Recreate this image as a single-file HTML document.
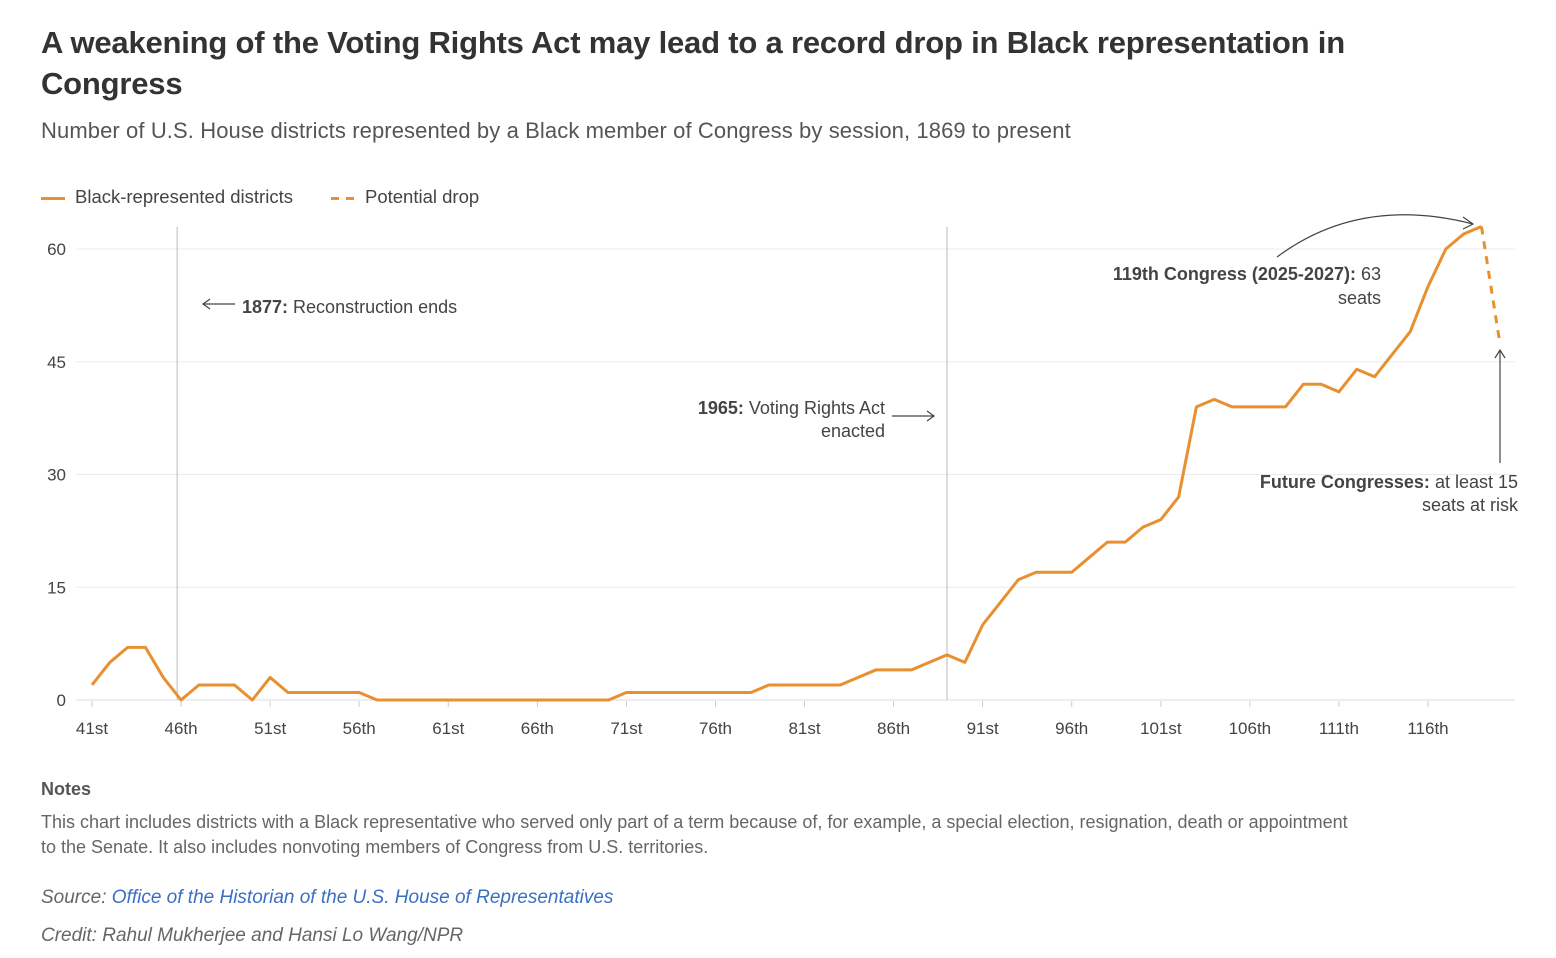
<!DOCTYPE html>
<html><head><meta charset="utf-8"><style>
body{margin:0;width:1556px;height:958px;background:#fff;font-family:"Liberation Sans",sans-serif;color:#333;overflow:hidden;position:relative}
.abs{position:absolute}
h1{position:absolute;left:41px;top:22px;margin:0;font-size:31px;line-height:41px;font-weight:bold;color:#333;width:1380px;letter-spacing:-0.2px}
.sub{left:41px;top:118px;font-size:22px;color:#555;letter-spacing:0.1px}
.leg{top:186px;font-size:18.5px;color:#444}
.notes{left:41px;top:779px;font-size:18px;color:#666}
svg text{font-family:"Liberation Sans",sans-serif}
</style></head><body>
<h1>A weakening of the Voting Rights Act may lead to a record drop in Black representation in Congress</h1>
<div class="abs sub">Number of U.S. House districts represented by a Black member of Congress by session, 1869 to present</div>
<div class="abs leg" style="left:41px"><span style="display:inline-block;width:24px;height:3px;background:#e8902f;vertical-align:middle;margin-right:10px"></span>Black-represented districts</div>
<div class="abs leg" style="left:331px"><span style="display:inline-block;width:24px;height:3px;background:linear-gradient(90deg,#e8902f 0 8px,transparent 8px 15px,#e8902f 15px 23px,transparent 23px);vertical-align:middle;margin-right:10px"></span>Potential drop</div>
<svg id="chart" class="abs" style="left:0;top:0" width="1556" height="760"></svg>
<div class="abs notes">
<div style="font-weight:bold;color:#555">Notes</div>
<div style="margin-top:10px;line-height:25px;width:1318px">This chart includes districts with a Black representative who served only part of a term because of, for example, a special election, resignation, death or appointment to the Senate. It also includes nonvoting members of Congress from U.S. territories.</div>
<div style="margin-top:27px;font-style:italic;font-size:19px">Source: <span style="color:#3a6fc4">Office of the Historian of the U.S. House of Representatives</span></div>
<div style="margin-top:16px;font-style:italic;font-size:19px">Credit: Rahul Mukherjee and Hansi Lo Wang/NPR</div>
</div>
<script>
const congresses=[41,42,43,44,45,46,47,48,49,50,51,52,53,54,55,56,57,58,59,60,61,62,63,64,65,66,67,68,69,70,71,72,73,74,75,76,77,78,79,80,81,82,83,84,85,86,87,88,89,90,91,92,93,94,95,96,97,98,99,100,101,102,103,104,105,106,107,108,109,110,111,112,113,114,115,116,117,118,119];
const seats=[2,5,7,7,3,0,2,2,2,0,3,1,1,1,1,1,0,0,0,0,0,0,0,0,0,0,0,0,0,0,1,1,1,1,1,1,1,1,2,2,2,2,2,3,4,4,4,5,6,5,10,13,16,17,17,17,19,21,21,23,24,27,39,40,39,39,39,39,42,42,41,44,43,46,49,55,60,62,63];
const dropCongresses=[119,120];
const dropSeats=[63,48];
const yTicks=[0,15,30,45,60];
const xTicks=[41,46,51,56,61,66,71,76,81,86,91,96,101,106,111,116];
const ordinal=n=>{const s=n%100;if(s>=11&&s<=13)return n+'th';return n+({1:'st',2:'nd',3:'rd'}[n%10]||'th');};
const X=c=>92+(c-41)*(1336/75);
const Y=v=>700-v*(451/60);
const svg=document.getElementById('chart');
const NS='http://www.w3.org/2000/svg';
function mk(tag,attrs,parent){const e=document.createElementNS(NS,tag);for(const k in attrs)e.setAttribute(k,attrs[k]);(parent||svg).appendChild(e);return e;}
yTicks.forEach(v=>{
  const l=mk('line',{x1:76,x2:1515,y1:Y(v),y2:Y(v),stroke:v===0?'#ddd':'#ebebeb','stroke-width':1});
  
  
  const t=mk('text',{x:66,y:Y(v)+6,'text-anchor':'end','font-size':17,fill:'#444'});
  t.textContent=v;
  
  
});
xTicks.forEach(c=>{
  const l=mk('line',{x1:X(c),x2:X(c),y1:701,y2:707,stroke:'#ccc'});
  
  
  const t=mk('text',{x:X(c),y:734,'text-anchor':'middle','font-size':17,fill:'#444'});
  t.textContent=ordinal(c);
  
  
});
[45.78,89].forEach(c=>{
  const l=mk('line',{x1:X(c),x2:X(c),y1:227,y2:700,stroke:'#bbb'});
  
  
});
const line=mk('polyline',{points:congresses.map((c,i)=>X(c)+','+Y(seats[i])).join(' '),fill:'none',stroke:'#e8902f','stroke-width':3,'stroke-linejoin':'round'});


const drop=mk('polyline',{points:dropCongresses.map((c,i)=>X(c)+','+Y(dropSeats[i])).join(' '),fill:'none',stroke:'#e8902f','stroke-width':3,'stroke-dasharray':'8 7'});


function ann(x,y,parts,anchor,name){
  const t=mk('text',{x:x,y:y,'text-anchor':anchor,'font-size':18,fill:'#444'});
  parts.forEach(p=>{const s=mk('tspan',p.b?{'font-weight':'bold'}:{},t);s.textContent=p.t;});
  
  
}
ann(242,313,[{t:'1877:',b:1},{t:' Reconstruction ends'}],'start','annotation-1877');
ann(885,414,[{t:'1965:',b:1},{t:' Voting Rights Act'}],'end','annotation-1965');
ann(885,437,[{t:'enacted'}],'end','annotation-1965-line2');
ann(1381,280,[{t:'119th Congress (2025-2027):',b:1},{t:' 63'}],'end','annotation-119th');
ann(1381,304,[{t:'seats'}],'end','annotation-119th-line2');
ann(1518,488,[{t:'Future Congresses:',b:1},{t:' at least 15'}],'end','annotation-future');
ann(1518,511,[{t:'seats at risk'}],'end','annotation-future-line2');
const arrows=[
 ['M235,304 L203,304','M210,299 L203,304 L210,309'],
 ['M892,416 L934,416','M927,411 L934,416 L927,421'],
 ['M1277,257 Q1360,195 1473,224','M1463,217 L1473,224 L1463,229'],
 ['M1500,463 L1500,350','M1495,358 L1500,350 L1505,358']
];
arrows.forEach(a=>{
  const g=mk('g',{fill:'none',stroke:'#444','stroke-width':1.2});
  mk('path',{d:a[0]},g);mk('path',{d:a[1]},g);
  
  
});
</script>
</body></html>
